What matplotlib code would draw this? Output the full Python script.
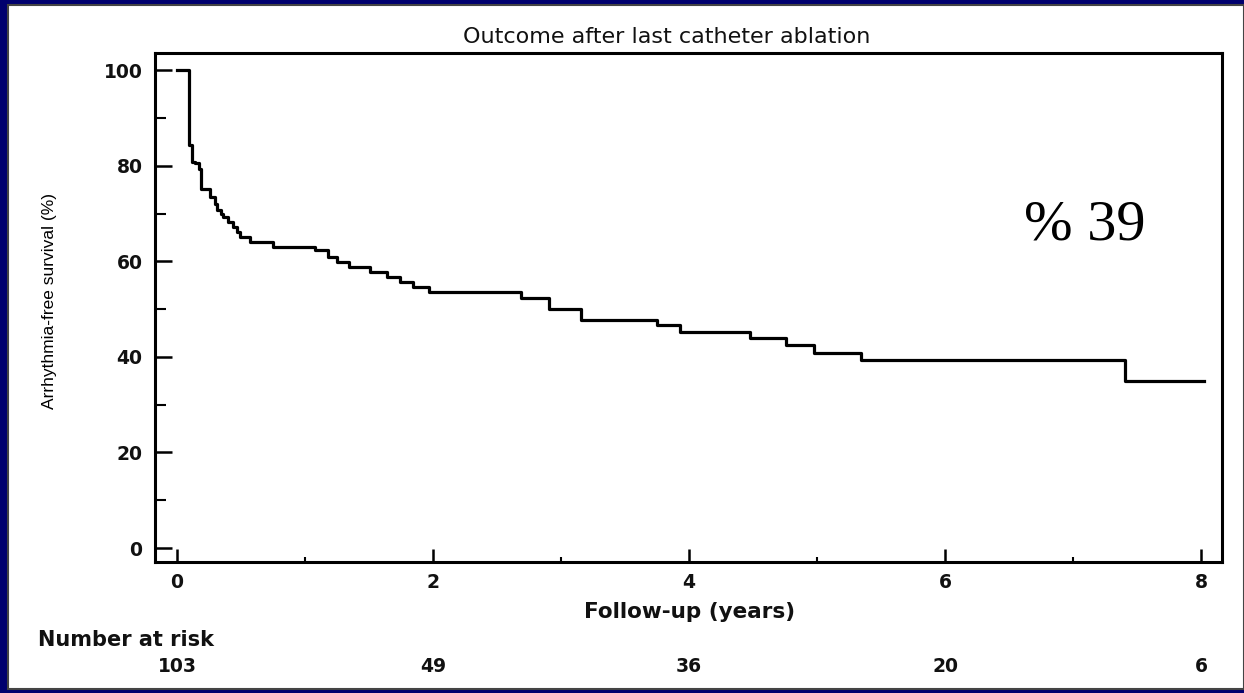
import matplotlib
matplotlib.use("Agg")
import matplotlib.pyplot as plt
from matplotlib.patches import Rectangle
from matplotlib import transforms

# Kaplan-Meier steps (years, % free of arrhythmia)
times = [0, 0.09, 0.115, 0.14, 0.17, 0.19, 0.26, 0.30, 0.31, 0.34, 0.36, 0.40,
         0.44, 0.47, 0.49, 0.57, 0.75, 1.08, 1.18, 1.25, 1.34, 1.51, 1.64, 1.74,
         1.84, 1.97, 2.69, 2.91, 3.16, 3.75, 3.93, 4.48, 4.76, 4.98, 5.34, 7.41,
         8.02]
surv = [100, 84.3, 80.8, 80.5, 79.4, 75.2, 73.5, 72.1, 70.7, 70.0, 69.3, 68.3,
        67.2, 66.2, 65.1, 64.1, 63.0, 62.3, 60.9, 59.9, 58.9, 57.8, 56.8, 55.7,
        54.7, 53.6, 52.4, 50.1, 47.7, 46.7, 45.3, 44.0, 42.5, 40.9, 39.3, 35.0,
        35.0]

risk_times = [0, 2, 4, 6, 8]
risk_counts = [103, 49, 36, 20, 6]

x_major = [0, 2, 4, 6, 8]
x_minor = [1, 3, 5, 7]
y_major = [0, 20, 40, 60, 80, 100]
y_minor = [10, 30, 50, 70, 90]

W, H = 1244, 693
sans = "DejaVu Sans"
ink = "#111111"

fig = plt.figure(figsize=(12.44, 6.93), dpi=100, facecolor="#00006e")
panel = Rectangle((8 / W, 4 / H), 1 - 8 / W, 684 / H, transform=fig.transFigure,
                  facecolor="white", edgecolor="#444444", lw=1.5, zorder=-10)
fig.patches.append(panel)

ax = fig.add_axes([155 / W, 1 - 562 / H, (1222 - 155) / W, (562 - 53) / H])
ax.patch.set_alpha(0)
ax.step(times, surv, where="post", color="black", lw=2.3)

ax.set_xlim(-0.172, 8.164)
ax.set_ylim(-2.93, 103.6)
ax.set_xticks(x_major)
ax.set_xticks(x_minor, minor=True)
ax.set_yticks(y_major)
ax.set_yticks(y_minor, minor=True)

for s in ax.spines.values():
    s.set_linewidth(2.2)

ax.tick_params(axis="x", which="major", direction="in", length=9.5, width=1.8, pad=8)
ax.tick_params(axis="x", which="minor", direction="in", length=3.5, width=1.5)
ax.tick_params(axis="y", which="major", direction="in", length=12.5, width=1.8, pad=9)
ax.tick_params(axis="y", which="minor", direction="in", length=8, width=1.5)
for lab in ax.get_xticklabels() + ax.get_yticklabels():
    lab.set_fontfamily(sans)
    lab.set_fontweight("bold")
    lab.set_fontsize(13.5)
    lab.set_color(ink)

fig.text(667 / W, 1 - 37 / H, "Outcome after last catheter ablation", ha="center",
         va="center", fontsize=16, fontfamily=sans, color=ink)
fig.text(690 / W, 1 - 612 / H, "Follow-up (years)", ha="center", va="center",
         fontsize=15.5, fontfamily=sans, fontweight="bold", color=ink)
fig.text(50 / W, 1 - 301 / H, "Arrhythmia-free survival (%)", ha="center",
         va="center", rotation=90, fontsize=12.5, fontfamily="Liberation Sans",
         color="black")

fig.text(38 / W, 1 - 640 / H, "Number at risk", ha="left", va="center",
         fontsize=15, fontfamily=sans, fontweight="bold", color=ink)
trans = transforms.blended_transform_factory(ax.transData, fig.transFigure)
for t, n in zip(risk_times, risk_counts):
    ax.text(t, 1 - 666 / H, str(n), transform=trans, ha="center", va="center",
            fontsize=13.5, fontfamily=sans, fontweight="bold", color=ink,
            clip_on=False)

ax.text(7.09, 67.6, "% 39", ha="center", va="center", fontsize=42,
        fontfamily="Liberation Serif", color="black")

fig.savefig("out.png", dpi=100, facecolor=fig.get_facecolor())
